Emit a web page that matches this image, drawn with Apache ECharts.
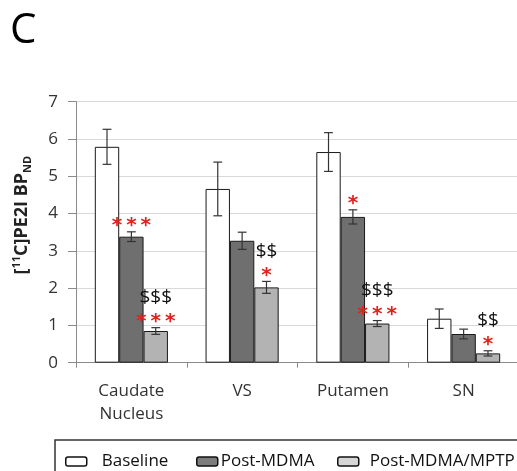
<!DOCTYPE html>
<html><head><meta charset="utf-8">
<script src="https://cdn.jsdelivr.net/npm/echarts@6/dist/echarts.min.js"></script>
<style>html,body{margin:0;padding:0;background:#fff}#c{width:517px;height:471px}</style>
</head><body><div id="c"></div>
<script>
const categories = ['Caudate\nNucleus', 'VS', 'Putamen', 'SN'];
const seriesNames = ['Baseline', 'Post-MDMA', 'Post-MDMA/MPTP'];
const baseline = [5.79, 4.66, 5.65, 1.18];
const baselineErr = [0.47, 0.72, 0.52, 0.26];
const postMDMA = [3.38, 3.27, 3.91, 0.77];
const postMDMAErr = [0.13, 0.23, 0.19, 0.13];
const postMPTP = [0.85, 2.02, 1.05, 0.25];
const postMPTPErr = [0.09, 0.16, 0.08, 0.07];
const starsMDMA = ['***', '', '*', ''];
const starsMPTP = ['***', '*', '***', '*'];
const dollarsMPTP = ['$$$', '$$', '$$$', '$$'];
const yMin = 0, yMax = 7, yStep = 1;

const FONT = '"Open Sans", sans-serif';
const colors = ['#ffffff', '#6f6f6f', '#b3b3b3'];
const BW = 0.22;

function errSeries(gi, vals, errs, stars, dollars) {
  return {
    type: 'custom',
    name: seriesNames[gi] + ' error',
    z: 10,
    silent: true,
    data: vals.map((v, i) => [i, v, errs[i]]),
    encode: { x: 0, y: 1 },
    renderItem: function (params, api) {
      const i = api.value(0), v = api.value(1), e = api.value(2);
      const band = api.size([1, 0])[0];
      const bw = band * BW;
      const cx = api.coord([i, v])[0] + (gi - 1) * bw;
      const yTop = api.coord([i, v + e])[1];
      const yBot = api.coord([i, v - e])[1];
      const hw = 4.4;
      const ls = { stroke: '#333', lineWidth: 1.2 };
      const children = [
        { type: 'line', shape: { x1: cx, y1: yTop, x2: cx, y2: yBot }, style: ls },
        { type: 'line', shape: { x1: cx - hw, y1: yTop, x2: cx + hw, y2: yTop }, style: ls },
        { type: 'line', shape: { x1: cx - hw, y1: yBot, x2: cx + hw, y2: yBot }, style: ls }
      ];
      const s = stars ? stars[params.dataIndex] : '';
      const d = dollars ? dollars[params.dataIndex] : '';
      if (s) children.push({ type: 'text', style: { text: s.split('').join('\u2009'), x: cx, y: yTop - 6, fill: '#e3211c',
        font: 'bold 20px "DejaVu Sans"', align: 'center', verticalAlign: 'middle' } });
      if (d) children.push({ type: 'text', style: { text: d, x: cx, y: yTop - 30, fill: '#111',
        font: '19px ' + FONT, align: 'center', verticalAlign: 'middle' } });
      return { type: 'group', children: children };
    }
  };
}

const chart = echarts.init(document.getElementById('c'), null, { renderer: 'canvas' });
chart.setOption({
  animation: false,
  backgroundColor: '#fff',
  title: { text: 'C', left: 5, top: 5, textStyle: { fontSize: 42, fontWeight: 'normal', color: '#000', fontFamily: FONT } },
  grid: { left: 76, right: -2, top: 101.7, bottom: 108.3, containLabel: false, outerBoundsMode: 'none' },
  legend: [
    { data: [{ name: seriesNames[0], itemStyle: { borderWidth: 1.5, borderColor: '#111' } }], left: 65, top: 453, itemWidth: 21, itemHeight: 9, padding: 0,
      textStyle: { fontSize: 17, color: '#111', fontFamily: FONT, padding: [0, 0, 0, 10] } },
    { data: [{ name: seriesNames[1], itemStyle: { borderWidth: 1.5, borderColor: '#111', color: '#7d7d7d' } }], left: 196, top: 453, itemWidth: 21, itemHeight: 9, padding: 0,
      textStyle: { fontSize: 17, color: '#111', fontFamily: FONT, padding: [0, 0, 0, -2] } },
    { data: [{ name: seriesNames[2], itemStyle: { borderWidth: 1.5, borderColor: '#111', color: '#d6d6d6' } }], left: 337, top: 453, itemWidth: 21, itemHeight: 9, padding: 0,
      textStyle: { fontSize: 17, color: '#111', fontFamily: FONT, padding: [0, 0, 0, 6] } }
  ],
  graphic: [
    { type: 'rect', shape: { x: 55, y: 440, width: 490, height: 60 }, style: { fill: 'none', stroke: '#333', lineWidth: 1.5 }, silent: true }
  ],
  xAxis: {
    type: 'category', data: categories,
    axisLine: { lineStyle: { color: '#8a8a8a', width: 1 } },
    axisTick: { show: true, length: 5, lineStyle: { color: '#8a8a8a' } },
    axisLabel: { fontSize: 17, lineHeight: 23, color: '#333', fontFamily: FONT, margin: 17 }
  },
  yAxis: {
    type: 'value', min: yMin, max: yMax, interval: yStep,
    name: '[{sup|11}C]PE2I BP{sub|ND}',
    nameLocation: 'middle', nameRotate: 90, nameGap: 43,
    nameTextStyle: { fontSize: 18, fontWeight: 'bold', color: '#222', fontFamily: FONT, lineHeight: 22, padding: [0, 0, 0, 34],
      rich: { sup: { fontSize: 11, fontWeight: 'bold', fontFamily: FONT, color: '#222', verticalAlign: 'top', lineHeight: 22 },
              sub: { fontSize: 11, fontWeight: 'bold', fontFamily: FONT, color: '#222', verticalAlign: 'bottom', lineHeight: 22 } } },
    axisLine: { show: true, lineStyle: { color: '#8a8a8a', width: 1 } },
    axisTick: { show: true, length: 8, lineStyle: { color: '#8a8a8a' } },
    axisLabel: { fontSize: 17, color: '#333', fontFamily: FONT, margin: 18 },
    splitLine: { lineStyle: { color: '#d9d9d9', width: 1 } }
  },
  series: [
    { type: 'bar', name: seriesNames[0], data: baseline, barWidth: (BW * 100) + '%', barGap: '0%',
      itemStyle: { color: colors[0], borderColor: '#1a1a1a', borderWidth: 1 } },
    { type: 'bar', name: seriesNames[1], data: postMDMA, barWidth: (BW * 100) + '%', barGap: '0%',
      itemStyle: { color: colors[1], borderColor: '#1a1a1a', borderWidth: 1 } },
    { type: 'bar', name: seriesNames[2], data: postMPTP, barWidth: (BW * 100) + '%', barGap: '0%',
      itemStyle: { color: colors[2], borderColor: '#1a1a1a', borderWidth: 1 } },
    errSeries(0, baseline, baselineErr, null, null),
    errSeries(1, postMDMA, postMDMAErr, starsMDMA, null),
    errSeries(2, postMPTP, postMPTPErr, starsMPTP, dollarsMPTP)
  ]
});
</script></body></html>
